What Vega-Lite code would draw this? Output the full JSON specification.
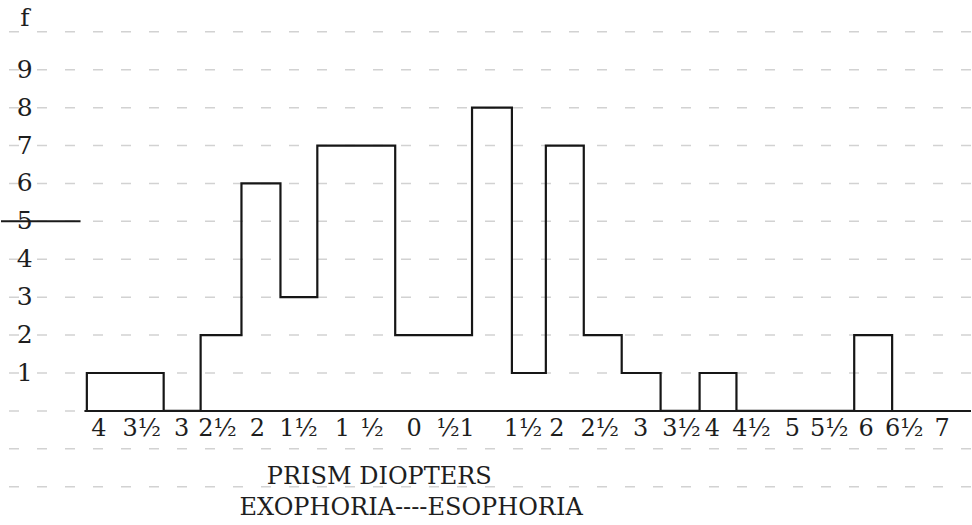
{
  "$schema": "https://vega.github.io/schema/vega-lite/v6.json",
  "width": 972,
  "height": 525,
  "autosize": {"type": "fit", "contains": "padding"},
  "padding": 0,
  "background": "#ffffff",
  "config": {"view": {"stroke": null}},
  "datasets": {
    "bins": [
      {"i": 0, "lo": 8.85, "f": 0},
      {"i": 1, "lo": 8.85, "f": 1},
      {"i": 2, "lo": 16.77, "f": 0},
      {"i": 3, "lo": 20.58, "f": 2},
      {"i": 4, "lo": 24.79, "f": 6},
      {"i": 5, "lo": 28.81, "f": 3},
      {"i": 6, "lo": 32.61, "f": 7},
      {"i": 7, "lo": 40.64, "f": 2},
      {"i": 8, "lo": 48.56, "f": 8},
      {"i": 9, "lo": 52.67, "f": 1},
      {"i": 10, "lo": 56.17, "f": 7},
      {"i": 11, "lo": 60.08, "f": 2},
      {"i": 12, "lo": 63.99, "f": 1},
      {"i": 13, "lo": 68.0, "f": 0},
      {"i": 14, "lo": 72.02, "f": 1},
      {"i": 15, "lo": 75.82, "f": 0},
      {"i": 16, "lo": 87.96, "f": 2},
      {"i": 17, "lo": 91.87, "f": 0}
    ],
    "xlabels": [
      {"pos": 10.08, "label": "4"},
      {"pos": 14.51, "label": "3½"},
      {"pos": 18.62, "label": "3"},
      {"pos": 22.33, "label": "2½"},
      {"pos": 26.44, "label": "2"},
      {"pos": 30.66, "label": "1½"},
      {"pos": 35.19, "label": "1"},
      {"pos": 38.27, "label": "½"},
      {"pos": 42.59, "label": "0"},
      {"pos": 46.09, "label": "½"},
      {"pos": 48.05, "label": "1"},
      {"pos": 53.81, "label": "1½"},
      {"pos": 57.3, "label": "2"},
      {"pos": 61.73, "label": "2½"},
      {"pos": 65.95, "label": "3"},
      {"pos": 70.16, "label": "3½"},
      {"pos": 73.35, "label": "4"},
      {"pos": 77.37, "label": "4½"},
      {"pos": 81.58, "label": "5"},
      {"pos": 85.39, "label": "5½"},
      {"pos": 89.2, "label": "6"},
      {"pos": 93.11, "label": "6½"},
      {"pos": 97.02, "label": "7"}
    ],
    "ylabels": [
      {"f": 10.37, "label": "f"},
      {"f": 9, "label": "9"},
      {"f": 8, "label": "8"},
      {"f": 7, "label": "7"},
      {"f": 6, "label": "6"},
      {"f": 5, "label": "5"},
      {"f": 4, "label": "4"},
      {"f": 3, "label": "3"},
      {"f": 2, "label": "2"},
      {"f": 1, "label": "1"}
    ],
    "grid": [
      {"f": -2}, {"f": -1}, {"f": 0}, {"f": 1}, {"f": 2}, {"f": 3}, {"f": 4},
      {"f": 5}, {"f": 6}, {"f": 7}, {"f": 8}, {"f": 9}, {"f": 10}
    ],
    "captions": [
      {"pos": 39.0, "f": -1.74, "text": "PRISM DIOPTERS"},
      {"pos": 42.28, "f": -2.56, "text": "EXOPHORIA----ESOPHORIA"}
    ]
  },
  "layer": [
    {
      "data": {"name": "grid"},
      "mark": {"type": "rule", "color": "#d2d2d2", "strokeWidth": 1.5, "strokeDash": [10, 18]},
      "encoding": {
        "y": {"field": "f", "type": "quantitative", "scale": {"domain": [-3.01, 10.84], "nice": false, "zero": false}, "axis": null}
      }
    },
    {
      "data": {"name": "bins"},
      "mark": {"type": "line", "interpolate": "step-after", "color": "#161616", "strokeWidth": 2.2},
      "encoding": {
        "x": {"field": "lo", "type": "quantitative", "scale": {"domain": [0, 100], "nice": false, "zero": false}, "axis": null},
        "y": {"field": "f", "type": "quantitative", "axis": null},
        "order": {"field": "i", "type": "quantitative"}
      }
    },
    {
      "data": {"values": [{"a": 8.6, "b": 100, "f": 0}, {"a": 0, "b": 8.2, "f": 5}]},
      "mark": {"type": "rule", "color": "#1a1a1a", "strokeWidth": 2},
      "encoding": {
        "x": {"field": "a", "type": "quantitative"},
        "x2": {"field": "b"},
        "y": {"field": "f", "type": "quantitative"}
      }
    },
    {
      "data": {"name": "xlabels"},
      "mark": {"type": "text", "font": "DejaVu Serif", "fontSize": 24, "color": "#1e1e1e", "align": "center", "baseline": "middle", "dy": 18},
      "encoding": {
        "x": {"field": "pos", "type": "quantitative"},
        "y": {"datum": 0},
        "text": {"field": "label"}
      }
    },
    {
      "data": {"name": "ylabels"},
      "mark": {"type": "text", "font": "DejaVu Serif", "fontSize": 25, "color": "#1e1e1e", "align": "center", "baseline": "middle"},
      "encoding": {
        "x": {"datum": 2.45},
        "y": {"field": "f", "type": "quantitative"},
        "text": {"field": "label"}
      }
    },
    {
      "data": {"name": "captions"},
      "mark": {"type": "text", "font": "DejaVu Serif", "fontSize": 24, "color": "#1e1e1e", "align": "center", "baseline": "middle"},
      "encoding": {
        "x": {"field": "pos", "type": "quantitative"},
        "y": {"field": "f", "type": "quantitative"},
        "text": {"field": "text"}
      }
    }
  ]
}
